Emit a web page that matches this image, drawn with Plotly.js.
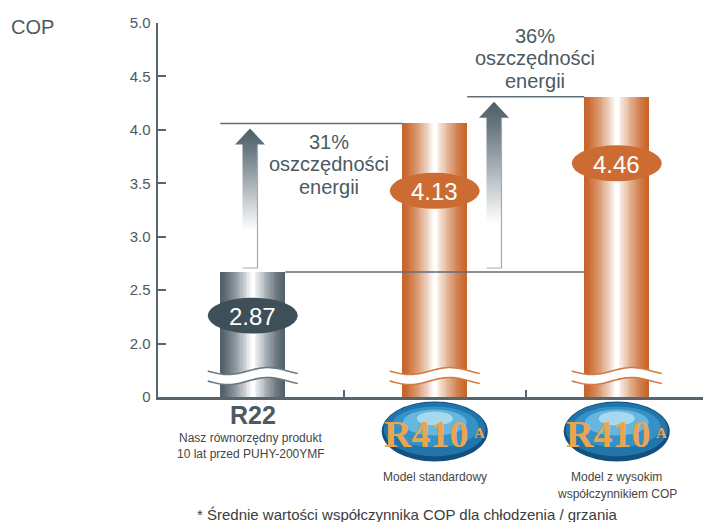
<!DOCTYPE html>
<html>
<head>
<meta charset="utf-8">
<script src="https://cdn.plot.ly/plotly-3.0.1.min.js"></script>
<style>html,body{margin:0;padding:0;background:#fff;}#chart{width:703px;height:522px;}</style>
</head>
<body>
<div id="chart"></div>
<script>
// ---------- data ----------
const categories = ['R22', 'R410A standard', 'R410A high COP'];
const barHeights = [2.67, 4.06, 4.31];          // drawn bar heights
const copLabels = ['2.87', '4.13', '4.46'];       // printed COP values
const savingsPct = ['31%', '36%'];
const savingsText = ['oszczędności', 'energii'];
const yTickVals = [1.5, 2, 2.5, 3, 3.5, 4, 4.5, 5];
const yTickText = ['0', '2.0', '2.5', '3.0', '3.5', '4.0', '4.5', '5.0'];
const catNotes = [
  ['Nasz równorzędny produkt', '10 lat przed PUHY-200YMF'],
  ['Model standardowy'],
  ['Model z wysokim', 'współczynnikiem COP']
];
const footnote = '* Średnie wartości współczynnika COP dla chłodzenia / grzania';

// ---------- geometry helpers ----------
const W = 703, H = 522;
const mar = {l: 158, r: 0, t: 23, b: 124.5};
const xRange = [-0.5206, 2.4739];
const yRange = [1.5, 5.0];
const plotW = W - mar.l - mar.r, plotH = H - mar.t - mar.b;
const pxX = plotW / (xRange[1] - xRange[0]);
const pxY = plotH / (yRange[1] - yRange[0]);
const baseY = H - mar.b;
const X = px => xRange[0] + (px - mar.l) / pxX;
const Y = py => yRange[0] + (baseY - py) / pxY;
const PX = px => (px - mar.l) / plotW;
const PY = py => (baseY - py) / plotH;
const xs = categories.map((c, i) => i);
const bw = 65 / pxX;

const slate = '#4b5a63';
const axisCol = '#56656e';
const edgeCols = ['#53616a', '#c8652a', '#c8652a'];
const waveCols = ['#6a7881', '#d27c45', '#d27c45'];

function hex2rgb(h){return [1,3,5].map(i=>parseInt(h.substr(i,2),16));}
function mix(a, b, t){const A=hex2rgb(a),B=hex2rgb(b);return 'rgb('+A.map((v,i)=>Math.round(v+(B[i]-v)*t)).join(',')+')';}

const traces = [];
// layered bars to get a cylinder-like gradient
const N = 18;
for (let k = 0; k < N; k++) {
  const t = k / (N - 1);
  traces.push({
    type: 'bar', x: xs, y: barHeights, width: xs.map(() => bw * (1 - k / N)),
    marker: {color: edgeCols.map(c => mix(c, '#ffffff', Math.pow(t, 1.35))), line: {width: 0}},
    hoverinfo: 'skip', showlegend: false
  });
}
// reference lines
const refLines = [
  {x: [xs[0] + bw/2, xs[2] - bw/2], y: [barHeights[0], barHeights[0]]},
  {x: [xs[0] - bw/2, xs[1] - bw/2], y: [barHeights[1], barHeights[1]]},
  {x: [xs[1] + bw/2, xs[2] - bw/2], y: [barHeights[2], barHeights[2]]}
];
refLines.forEach(l => traces.push({type: 'scatter', mode: 'lines', x: l.x, y: l.y,
  line: {color: '#5e6d76', width: 1.5}, hoverinfo: 'skip', showlegend: false}));

// arrows
const arrows = [{to: 1, cx: X(250)}, {to: 2, cx: X(494)}];
const sh = 7.5 / pxX, hh = 15 / pxX, headH = 16 / pxY;
arrows.forEach(a => {
  const bottom = barHeights[0] + 4 / pxY;
  const tip = barHeights[a.to] - 5 / pxY;
  const base = tip - headH;
  const cx = a.cx;
  traces.push({type: 'scatter', mode: 'none', fill: 'toself',
    x: [cx-sh, cx-sh, cx-hh, cx, cx+hh, cx+sh, cx+sh, cx-sh],
    y: [bottom, base, base, tip, base, base, bottom, bottom],
    fillgradient: {type: 'vertical', colorscale: [[0,'#ffffff'],[0.27,'#ffffff'],[0.86,'#66757e'],[1,'#4e5d67']]},
    hoverinfo: 'skip', showlegend: false});
  traces.push({type: 'scatter', mode: 'lines',
    x: [cx+sh, cx+sh, cx-sh], y: [base, bottom, bottom],
    line: {color: '#a3abb0', width: 1.2}, hoverinfo: 'skip', showlegend: false});
});

// ---------- shapes ----------
const shapes = [];
// wave breaks
function wavePts(cx, yPx, n){
  const pts = [];
  for (let i = 0; i <= n; i++) {
    const dx = -45 + 90 * i / n;
    const dy = 3.5 * Math.sin(2 * Math.PI * (dx + 45) / 80);
    pts.push([cx + dx / pxX, Y(yPx + dy)]);
  }
  return pts;
}
xs.forEach((x, i) => {
  const up = wavePts(x, 371.5, 40), lo = wavePts(x, 381.5, 40);
  let d = 'M' + up.map(p => p[0] + ',' + p[1]).join('L');
  d += 'L' + lo.slice().reverse().map(p => p[0] + ',' + p[1]).join('L') + 'Z';
  shapes.push({type: 'path', xref: 'x', yref: 'y', path: d, fillcolor: '#ffffff', line: {width: 0}});
  [up, lo].forEach(pts => shapes.push({type: 'path', xref: 'x', yref: 'y',
    path: 'M' + pts.map(p => p[0] + ',' + p[1]).join('L'), line: {color: waveCols[i], width: 1.6}}));
});
// COP ellipses
const labelPos = [316, 191, 163.5];
const labelCols = ['#3e4f57', '#cd6c32', '#cd6c32'];
const ew = 45 / pxX, eh = 18 / pxY;
xs.forEach((x, i) => shapes.push({type: 'circle', xref: 'x', yref: 'y',
  x0: x - ew, x1: x + ew, y0: Y(labelPos[i]) - eh, y1: Y(labelPos[i]) + eh,
  fillcolor: labelCols[i], line: {width: 0}}));
// R410A logos
[1, 2].forEach(i => {
  const cx = mar.l + (i - xRange[0]) * pxX;
  const e = (x0,x1,y0,y1,c) => shapes.push({type:'circle',xref:'paper',yref:'paper',
    x0: PX(cx + x0), x1: PX(cx + x1), y0: PY(432 + y1), y1: PY(432 + y0), fillcolor: c, line:{width:0}});
  e(-53, 53, -30, 30, '#12507f');
  e(-51, 51, -29, 25, '#2076ab');
  e(-44, 44, -25, 16, '#3591c6');
  e(-32, 32, -22, 4, '#66b6dd');
  e(-18, 18, -20, -6, '#a6d9ee');
});

// ---------- annotations ----------
const ann = [];
const A = (px, py, text, size, color, opts) => ann.push(Object.assign({xref:'paper', yref:'paper',
  x: PX(px), y: PY(py), text, showarrow:false, xanchor:'center', yanchor:'middle',
  font:{family:'Liberation Sans, Arial, sans-serif', size, color}}, opts || {}));
A(9, 27, 'COP', 20, slate, {xanchor: 'left'});
xs.forEach((x, i) => {
  ann.push({xref:'x', yref:'y', x, y: Y(labelPos[i] + 1), text: copLabels[i], showarrow:false,
    font:{family:'Liberation Sans, Arial, sans-serif', size: 24, color:'#ffffff'}});
});
// savings texts
const savPos = [{x: 329, y: [142, 164.5, 187]}, {x: 535, y: [36, 58.5, 81]}];
savPos.forEach((p, i) => {
  A(p.x, p.y[0], savingsPct[i], 20, slate);
  A(p.x, p.y[1], savingsText[0], 20, slate);
  A(p.x, p.y[2], savingsText[1], 20, slate);
});
// category labels
const cx0 = mar.l + (0 - xRange[0]) * pxX;
A(cx0, 416, '<b>R22</b>', 25, slate);
A(cx0 - 2, 439, catNotes[0][0], 12, '#454545');
A(cx0 - 2, 455, catNotes[0][1], 12, '#454545');
const cx1 = mar.l + (1 - xRange[0]) * pxX, cx2 = mar.l + (2 - xRange[0]) * pxX;
A(cx1, 478, catNotes[1][0], 12, '#454545');
A(cx2, 478, catNotes[2][0], 12, '#454545');
A(cx2, 495, catNotes[2][1], 12, '#454545');
[cx1, cx2].forEach(c => {
  ann.push({xref:'paper', yref:'paper', x: PX(c - 9), y: PY(435), text:'<b>R410</b>', showarrow:false,
    xanchor:'center', yanchor:'middle', font:{family:'Liberation Serif, DejaVu Serif, serif', size: 38, color:'#eaa551'}});
  ann.push({xref:'paper', yref:'paper', x: PX(c + 45), y: PY(434), text:'<b>A</b>', showarrow:false,
    xanchor:'center', yanchor:'middle', font:{family:'Liberation Serif, DejaVu Serif, serif', size: 15, color:'#eaa551'}});
});
A(407, 515, footnote, 15, '#3c3c3c');

const layout = {
  width: W, height: H, margin: mar, paper_bgcolor: '#fff', plot_bgcolor: '#fff',
  barmode: 'overlay', bargap: 0, showlegend: false,
  xaxis: {range: xRange, showgrid: false, zeroline: false, showline: true, linecolor: axisCol, linewidth: 2.5,
    ticks: 'inside', tickvals: [0.5, 1.5], ticklen: 7, tickwidth: 2, tickcolor: axisCol, showticklabels: false, fixedrange: true},
  yaxis: {range: yRange, showgrid: false, zeroline: false, showline: true, linecolor: axisCol, linewidth: 2.5,
    ticks: 'inside', tickvals: yTickVals, ticktext: yTickText, ticklen: 8, tickwidth: 2, tickcolor: axisCol,
    tickfont: {family: 'Liberation Sans, Arial, sans-serif', size: 15, color: slate}, ticklabelstandoff: 2, fixedrange: true},
  shapes, annotations: ann
};
Plotly.newPlot('chart', traces, layout, {displayModeBar: false, staticPlot: true});
</script>
</body>
</html>
